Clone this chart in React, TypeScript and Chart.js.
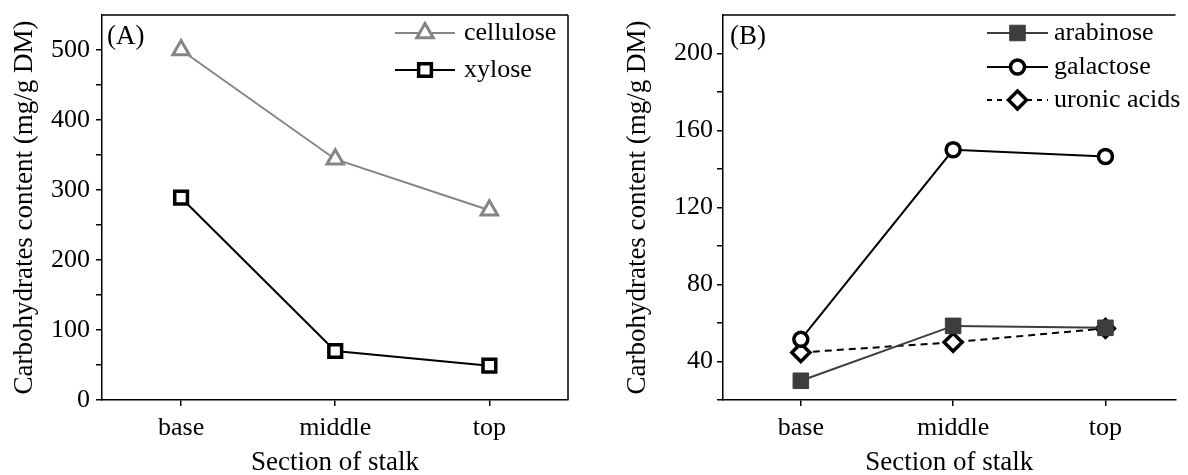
import React, { useEffect, useRef } from 'react';
import { Chart, registerables } from 'chart.js';

Chart.register(...registerables);

const FONT = "'Liberation Serif', 'Times New Roman', serif";

// ---- data ----
const categories = ['base', 'middle', 'top'];
const celluloseValues = [500, 344, 271];
const xyloseValues = [289, 70, 49];
const arabinoseValues = [30, 58.5, 57.5];
const galactoseValues = [51.5, 150, 146.5];
const uronicValues = [44.7, 50, 57.2];
const yMajorA = [0, 100, 200, 300, 400, 500];
const yMajorB = [40, 80, 120, 160, 200];
const xTitle = 'Section of stalk';
const yTitle = 'Carbohydrates content (mg/g DM)';

const toPoints = (vals: number[]) => vals.map((v, i) => ({ x: i, y: v }));

function drawMarker(ctx: CanvasRenderingContext2D, style: string, x: number, y: number, r: number) {
  ctx.beginPath();
  if (style === 'circle') {
    ctx.arc(x, y, r, 0, Math.PI * 2);
  } else if (style === 'rect') {
    const s = Math.SQRT1_2 * r;
    ctx.rect(x - s, y - s, 2 * s, 2 * s);
  } else if (style === 'rectRot') {
    ctx.moveTo(x - r, y);
    ctx.lineTo(x, y - r);
    ctx.lineTo(x + r, y);
    ctx.lineTo(x, y + r);
    ctx.closePath();
  } else if (style === 'triangle') {
    for (let k = 0; k < 3; k++) {
      const a = (k * 2 * Math.PI) / 3;
      const px = x + Math.sin(a) * r;
      const py = y - Math.cos(a) * r;
      if (k === 0) ctx.moveTo(px, py);
      else ctx.lineTo(px, py);
    }
    ctx.closePath();
  }
  ctx.fill();
  ctx.stroke();
}

const framePlugin = {
  id: 'frame',
  afterDraw(chart: any, _args: any, opts: any) {
    const { ctx, chartArea: a } = chart;
    ctx.save();
    ctx.strokeStyle = '#000';
    ctx.lineWidth = 1.5;
    ctx.beginPath();
    ctx.moveTo(a.left, a.top);
    ctx.lineTo(a.right, a.top);
    if (opts.right) {
      ctx.moveTo(a.right, a.top);
      ctx.lineTo(a.right, a.bottom);
    }
    ctx.stroke();
    // panel label
    ctx.fillStyle = '#000';
    ctx.font = `27px ${FONT}`;
    ctx.textBaseline = 'middle';
    ctx.textAlign = 'left';
    ctx.fillText(opts.label, opts.labelX, opts.labelY);
    ctx.restore();
  },
};

const innerLegendPlugin = {
  id: 'innerLegend',
  afterDraw(chart: any, _args: any, opts: any) {
    const { ctx } = chart;
    ctx.save();
    chart.data.datasets.forEach((ds: any, i: number) => {
      const y = opts.rows[i];
      ctx.strokeStyle = ds.borderColor;
      ctx.lineWidth = ds.borderWidth;
      ctx.setLineDash(ds.legendDash || ds.borderDash || []);
      ctx.beginPath();
      ctx.moveTo(opts.x0, y);
      ctx.lineTo(opts.x1, y);
      ctx.stroke();
      ctx.setLineDash([]);
      ctx.fillStyle = ds.pointBackgroundColor;
      ctx.strokeStyle = ds.pointBorderColor;
      ctx.lineWidth = ds.pointBorderWidth;
      drawMarker(ctx, ds.pointStyle, (opts.x0 + opts.x1) / 2, y, ds.pointRadius);
      ctx.fillStyle = '#000';
      ctx.font = `26px ${FONT}`;
      ctx.textBaseline = 'middle';
      ctx.textAlign = 'left';
      ctx.fillText(ds.label, opts.xt, y);
    });
    ctx.restore();
  },
};

function makeScales(p: {
  xmin: number; xmax: number; ymin: number; ymax: number; step: number; major: number[];
  yWidth: number; titlePad: number; labelPad: number;
}) {
  const tickFont = { family: FONT, size: 26 };
  return {
    x: {
      type: 'linear',
      min: p.xmin,
      max: p.xmax,
      afterBuildTicks: (s: any) => {
        s.ticks = categories.map((_, i) => ({ value: i }));
      },
      ticks: {
        callback: (v: any) => categories[v] ?? '',
        font: tickFont,
        color: '#000',
        padding: 7,
        maxRotation: 0,
        autoSkip: false,
      },
      grid: { display: true, drawOnChartArea: false, drawTicks: true, tickLength: 6, color: '#000', lineWidth: 1.5 },
      border: { display: true, color: '#000', width: 1.5 },
      title: {
        display: true,
        text: xTitle,
        color: '#000',
        font: { family: FONT, size: 27, lineHeight: 0.9 },
        padding: { top: 0, bottom: 0 },
      },
      afterFit: (s: any) => {
        s.height = 75;
        s.paddingLeft = 0;
        s.paddingRight = 0;
      },
    },
    y: {
      type: 'linear',
      min: p.ymin,
      max: p.ymax,
      ticks: {
        stepSize: p.step,
        callback: (v: any) => (p.major.includes(v) ? String(v) : ''),
        font: tickFont,
        color: '#000',
        padding: p.labelPad,
      },
      grid: {
        display: true,
        drawOnChartArea: false,
        drawTicks: true,
        tickLength: 6,
        color: '#000',
        lineWidth: 1.5,
        tickColor: (c: any) => (c.tick && c.tick.value === p.ymax ? 'rgba(0,0,0,0)' : '#000'),
      },
      border: { display: true, color: '#000', width: 1.5 },
      title: {
        display: true,
        text: yTitle,
        color: '#000',
        font: { family: FONT, size: 27, lineHeight: 1.2 },
        padding: { top: p.titlePad, bottom: 0 },
      },
      afterFit: (s: any) => {
        s.width = p.yWidth;
        s.paddingTop = 0;
        s.paddingBottom = 0;
      },
    },
  };
}

function configA(): any {
  return {
    type: 'line',
    data: {
      datasets: [
        {
          label: 'cellulose',
          data: toPoints(celluloseValues),
          borderColor: '#858585',
          borderWidth: 2,
          pointStyle: 'triangle',
          pointRadius: 9.5,
          pointBorderWidth: 3,
          pointBackgroundColor: '#fff',
          pointBorderColor: '#858585',
        },
        {
          label: 'xylose',
          data: toPoints(xyloseValues),
          borderColor: '#000',
          borderWidth: 2,
          pointStyle: 'rect',
          pointRadius: 9,
          pointBorderWidth: 3.5,
          pointBackgroundColor: '#fff',
          pointBorderColor: '#000',
        },
      ],
    },
    options: {
      animation: false,
      responsive: false,
      events: [],
      layout: { padding: { left: 0, right: 26, top: 15, bottom: 0 } },
      plugins: {
        legend: { display: false },
        tooltip: { enabled: false },
        frame: { right: true, label: '(A)', labelX: 107, labelY: 37 },
        innerLegend: { x0: 395, x1: 455, xt: 464, rows: [33, 70] },
      },
      scales: makeScales({
        xmin: -0.513, xmax: 2.51, ymin: 0, ymax: 550, step: 50, major: yMajorA,
        yWidth: 102, titlePad: 9, labelPad: 6,
      }),
    },
    plugins: [framePlugin, innerLegendPlugin],
  };
}

function configB(): any {
  return {
    type: 'line',
    data: {
      datasets: [
        {
          label: 'arabinose',
          data: toPoints(arabinoseValues),
          borderColor: '#3d3d3d',
          borderWidth: 2,
          pointStyle: 'rect',
          pointRadius: 11,
          pointBorderWidth: 1,
          pointBackgroundColor: '#3d3d3d',
          pointBorderColor: '#3d3d3d',
        },
        {
          label: 'galactose',
          data: toPoints(galactoseValues),
          borderColor: '#000',
          borderWidth: 2,
          pointStyle: 'circle',
          pointRadius: 7,
          pointBorderWidth: 3.5,
          pointBackgroundColor: '#fff',
          pointBorderColor: '#000',
        },
        {
          label: 'uronic acids',
          data: toPoints(uronicValues),
          borderColor: '#000',
          borderWidth: 2,
          borderDash: [7, 5],
          legendDash: [5, 5],
          pointStyle: 'rectRot',
          pointRadius: 9,
          pointBorderWidth: 3.5,
          pointBackgroundColor: '#fff',
          pointBorderColor: '#000',
        },
      ],
    },
    options: {
      animation: false,
      responsive: false,
      events: [],
      layout: { padding: { left: 0, right: 0, top: 15, bottom: 0 } },
      plugins: {
        legend: { display: false },
        tooltip: { enabled: false },
        frame: { right: false, label: '(B)', labelX: 136, labelY: 37 },
        innerLegend: { x0: 393, x1: 454, xt: 460, rows: [33, 67, 100] },
      },
      scales: makeScales({
        xmin: -0.511, xmax: 2.46, ymin: 20, ymax: 220, step: 20, major: yMajorB,
        yWidth: 129, titlePad: 28, labelPad: 4,
      }),
    },
    plugins: [framePlugin, innerLegendPlugin],
  };
}

function Panel({ make, left }: { make: () => any; left: number }) {
  const ref = useRef<HTMLCanvasElement | null>(null);
  useEffect(() => {
    if (!ref.current) return;
    const chart = new Chart(ref.current, make());
    return () => chart.destroy();
  }, [make]);
  return (
    <canvas
      ref={ref}
      width={594}
      height={475}
      style={{ position: 'absolute', left, top: 0, width: 594, height: 475 }}
    />
  );
}

export default function App() {
  return (
    <div
      style={{
        position: 'absolute',
        left: 0,
        top: 0,
        width: 1188,
        height: 475,
        background: '#fff',
        overflow: 'hidden',
      }}
    >
      <Panel make={configA} left={0} />
      <Panel make={configB} left={594} />
    </div>
  );
}
